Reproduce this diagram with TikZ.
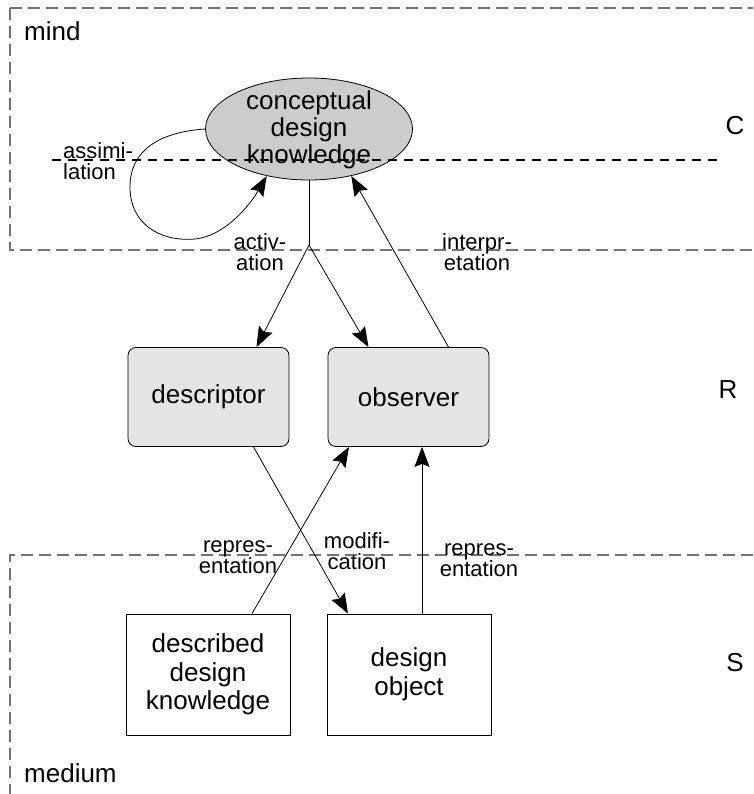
\documentclass[tikz,border=0pt]{standalone}
\usepackage{fontspec}
\setmainfont{Liberation Sans}
\usetikzlibrary{shapes.geometric,arrows.meta}
\begin{document}
\begin{tikzpicture}[x=1pt,y=-1pt,
  every node/.style={font=\fontsize{26}{27}\selectfont, inner sep=0pt},
  zone/.style={draw=black!55, line width=1.2pt, dash pattern=on 12pt off 6pt},
  cut/.style={draw=black, line width=1.5pt, dash pattern=on 9pt off 7pt},
  mentalbox/.style={draw, line width=0.8pt, fill=black!10, rounded corners=8pt,
    minimum width=161pt, minimum height=99pt},
  mediumbox/.style={draw, line width=0.8pt, fill=white,
    minimum width=164pt, minimum height=121pt, align=center,
    font=\fontsize{26}{28.5}\selectfont},
  lbl/.style={font=\fontsize{22}{21}\selectfont, align=center},
  flow/.style={line width=0.8pt, -{Stealth[length=20pt,width=15pt,inset=3pt]}},
  plain/.style={line width=0.8pt}]
\useasboundingbox (0,0) rectangle (753,794);
\fill[white] (0,0) rectangle (753,794);

% region borders
\draw[zone] (10,8) -- (753,8);
\draw[zone] (10,8) -- (10,250) -- (753,250);
\draw[zone] (753,555) -- (10,555) -- (10,794);

% region names and level letters
\node[anchor=west] (mind) at (24,31) {mind};
\node[anchor=west] (medium) at (24,773) {medium};
\node (lvC) at (735,126) {C};
\node (lvR) at (728,390) {R};
\node (lvS) at (735,663) {S};

% conceptual level
\node[ellipse, draw, line width=0.8pt, fill=black!20,
  minimum width=207pt, minimum height=102pt] (ck) at (309,129) {};
\draw[cut] (52,160) -- (722,160);
\node[align=center] (cktext) at (309,130) {conceptual\\design\\knowledge};

% representational level
\node[mentalbox] (desc) at (208.5,397) {descriptor};
\node[mentalbox] (obs) at (408.5,397) {observer};

% symbolic level
\node[mediumbox] (dk) at (208,674.5) {\raisebox{3pt}{\parbox{150pt}{\centering described\\design\\knowledge}}};
\node[mediumbox] (dobj) at (409,674.5) {design\\object};

% assimilation loop
\draw[flow] (ck.west) .. controls (160,132) and (130,150) .. (130,187)
  .. controls (130,224) and (160,242) .. (195,239)
  .. controls (225,236) and (250,205) .. (ck.-132);

% activation
\coordinate (split) at (309,245);
\draw[plain] (ck.south) -- (split);
\draw[flow] (split) -- ([xshift=48pt]desc.north);
\draw[flow] (split) -- ([xshift=-40pt]obs.north);

% interpretation
\draw[flow] ([xshift=40pt]obs.north) -- (ck.-48);

% modification and representation
\draw[flow] ([xshift=45pt]desc.south) -- ([xshift=-61pt]dobj.north);
\draw[flow] ([xshift=44pt]dk.north) -- ([xshift=-59.5pt]obs.south);
\draw[flow] ([xshift=13pt]dobj.north) -- ([xshift=13.5pt]obs.south);

% connector labels
\node[lbl, align=left, anchor=west] (lassim) at (63,161) {assimi-\\lation};
\node[lbl] (lact) at (260,252) {activ-\\ation};
\node[lbl] (linterp) at (477,252) {interpr-\\etation};
\node[lbl] (lrep1) at (238,557) {repres-\\entation};
\node[lbl] (lmod) at (357,551) {modifi-\\cation};
\node[lbl] (lrep2) at (479,560) {repres-\\entation};
\end{tikzpicture}
\end{document}
